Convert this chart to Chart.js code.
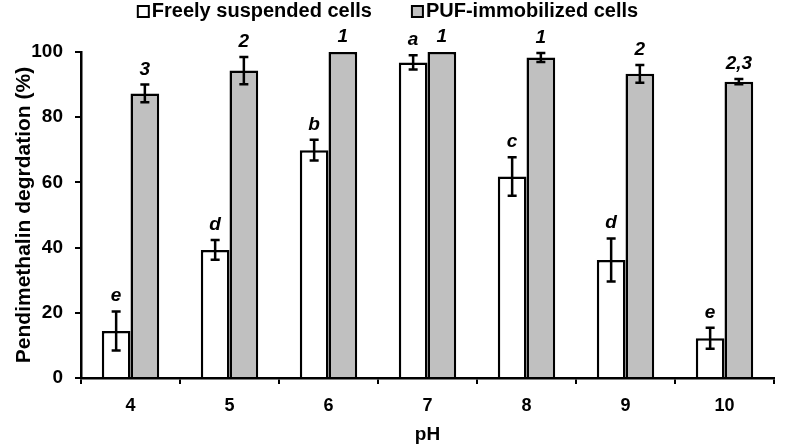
<!DOCTYPE html>
<html>
<head>
<meta charset="utf-8">
<script src="https://cdn.jsdelivr.net/npm/chart.js@4/dist/chart.umd.min.js"></script>
<style>
html,body{margin:0;padding:0;background:#fff;}
#wrap{width:786px;height:448px;position:relative;}
</style>
</head>
<body>
<div id="wrap"><canvas id="c" width="786" height="448"></canvas></div>
<script>
const categories = ['4', '5', '6', '7', '8', '9', '10'];
const freeValues = [14.4, 39.3, 69.9, 96.8, 61.8, 36.2, 12.2];
const freeErrors = [6.0, 3.0, 3.2, 2.2, 5.9, 6.6, 3.2];
const freeLetters = ['e', 'd', 'b', 'a', 'c', 'd', 'e'];
const pufValues = [87.3, 94.3, 100, 100, 98.3, 93.3, 90.9];
const pufErrors = [2.7, 4.2, 0, 0, 1.4, 2.7, 0.8];
const pufLetters = ['3', '2', '1', '1', '1', '2', '2,3'];
const yTicks = [0, 20, 40, 60, 80, 100];

const FONT = '"Liberation Sans", Arial, sans-serif';

// Legend drawn from the chart's own dataset labels and colours
const topLegend = {
  id: 'topLegend',
  afterDraw(chart) {
    const ctx = chart.ctx;
    const ds = chart.data.datasets;
    ctx.save();
    ctx.font = 'bold 20px ' + FONT;
    const box = 11, gap = 3, spacing = 40;
    const widths = ds.map(d => ctx.measureText(d.label).width);
    let total = 0;
    widths.forEach((w, i) => { total += box + gap + w + (i ? spacing : 0); });
    let x = (chart.width - total) / 2 - 5;
    const baseline = 17;
    ds.forEach((d, i) => {
      ctx.fillStyle = d.backgroundColor;
      ctx.fillRect(x, 6, box, box);
      ctx.strokeStyle = '#000';
      ctx.lineWidth = 2;
      ctx.strokeRect(x, 6, box, box);
      ctx.fillStyle = '#000';
      ctx.textAlign = 'left';
      ctx.textBaseline = 'alphabetic';
      ctx.fillText(d.label, x + box + gap, baseline);
      x += box + gap + widths[i] + spacing;
    });
    ctx.restore();
  }
};

const errorPlugin = {
  id: 'errorBars',
  afterDatasetsDraw(chart) {
    const ctx = chart.ctx;
    const y = chart.scales.y;
    const errs = [freeErrors, pufErrors];
    const lets = [freeLetters, pufLetters];
    chart.data.datasets.forEach((ds, di) => {
      const meta = chart.getDatasetMeta(di);
      meta.data.forEach((bar, i) => {
        const v = ds.data[i];
        const e = errs[di][i];
        const x = bar.x;
        const top = y.getPixelForValue(v + e);
        const bot = y.getPixelForValue(v - e);
        ctx.save();
        ctx.strokeStyle = '#000';
        ctx.lineWidth = 2.5;
        if (e > 0) {
          ctx.beginPath();
          ctx.moveTo(x, top); ctx.lineTo(x, bot);
          ctx.moveTo(x - 4.5, top); ctx.lineTo(x + 4.5, top);
          ctx.moveTo(x - 4.5, bot); ctx.lineTo(x + 4.5, bot);
          ctx.stroke();
        }
        ctx.fillStyle = '#000';
        ctx.font = 'italic bold 19px ' + FONT;
        ctx.textAlign = 'center';
        ctx.textBaseline = 'alphabetic';
        ctx.fillText(lets[di][i], x, Math.min(top, bar.y) - 10);
        ctx.restore();
      });
    });
  }
};

new Chart(document.getElementById('c'), {
  type: 'bar',
  data: {
    labels: categories,
    datasets: [
      {
        label: 'Freely suspended cells',
        data: freeValues,
        backgroundColor: '#ffffff',
        borderColor: '#000000',
        borderWidth: 2.5,
        categoryPercentage: 0.58,
        barPercentage: 1.0
      },
      {
        label: 'PUF-immobilized cells',
        data: pufValues,
        backgroundColor: '#c0c0c0',
        borderColor: '#000000',
        borderWidth: 2.5,
        categoryPercentage: 0.58,
        barPercentage: 1.0
      }
    ]
  },
  options: {
    responsive: false,
    animation: false,
    devicePixelRatio: 1,
    layout: { padding: { left: 12, right: 12, top: 52, bottom: 2 } },
    plugins: {
      legend: { display: false },
      tooltip: { enabled: false },
      title: { display: false }
    },
    scales: {
      x: {
        offset: true,
        afterFit(scale) { scale.height = 68; },
        border: { display: true, color: '#000', width: 2.5 },
        grid: { offset: true, drawOnChartArea: false, drawTicks: true, tickLength: 6, color: '#000', lineWidth: 2 },
        ticks: { color: '#000', font: { family: FONT, size: 18, weight: 'bold' }, padding: 11 },
        title: { display: true, text: 'pH', color: '#000', font: { family: FONT, size: 19, weight: 'bold' }, padding: { top: 2, bottom: 0 } }
      },
      y: {
        min: 0,
        max: 100,
        afterFit(scale) { scale.width = 69; },
        afterBuildTicks(scale) { scale.ticks = yTicks.map(v => ({ value: v })); },
        border: { display: true, color: '#000', width: 2.5 },
        grid: { drawOnChartArea: false, drawTicks: true, tickLength: 6, color: '#000', lineWidth: 2 },
        ticks: { color: '#000', font: { family: FONT, size: 19, weight: 'bold' }, padding: 12 },
        title: { display: true, text: 'Pendimethalin degrdation (%)', color: '#000', font: { family: FONT, size: 21, weight: 'bold' }, padding: { top: 0, bottom: 0 } }
      }
    }
  },
  plugins: [topLegend, errorPlugin]
});
</script>
</body>
</html>
